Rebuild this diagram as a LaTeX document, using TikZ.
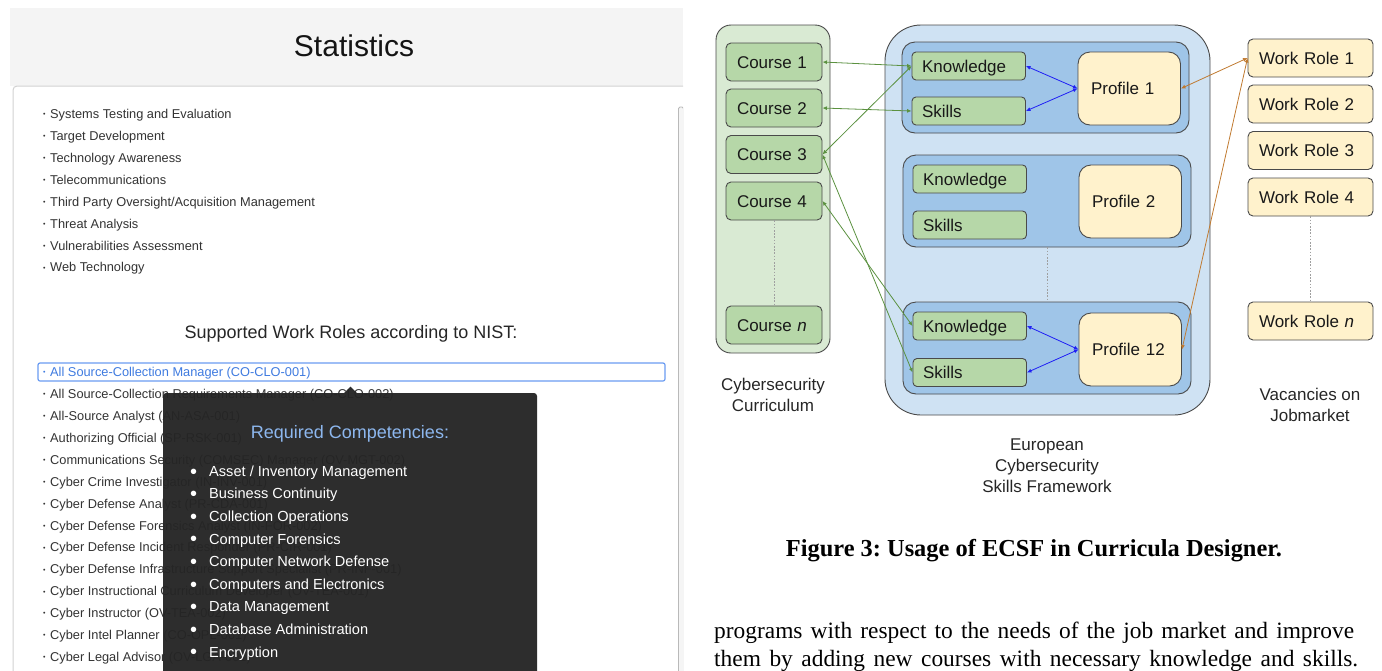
\documentclass[tikz,border=0pt]{standalone}
\usepackage{fontspec}
\setmainfont{Liberation Sans}
\newfontfamily\captionserif{Liberation Serif}
\usetikzlibrary{arrows.meta}
\frenchspacing
\newcommand{\setfs}[2]{\fontsize{#1}{#2}\selectfont}
\newcommand{\listbul}{\makebox[7pt][l]{\raisebox{0.13em}{\setfs{7}{7}•}}}
\newcommand{\tipbul}{\makebox[18pt][l]{\hspace*{-1pt}\raisebox{-0.12em}{\setfs{20}{20}•}}}
\definecolor{hdrgray}{HTML}{F4F4F4}
\definecolor{cardline}{HTML}{D2D2D2}
\definecolor{listtext}{HTML}{333333}
\definecolor{selblue}{HTML}{3F7BE0}
\definecolor{selborder}{HTML}{6A9CF2}
\definecolor{tipbg}{HTML}{252525}
\definecolor{tiptitle}{HTML}{8DB7EE}
\definecolor{currbg}{HTML}{D9EAD3}
\definecolor{coursefill}{HTML}{B6D7A8}
\definecolor{ecsfbg}{HTML}{CFE2F3}
\definecolor{groupfill}{HTML}{9FC5E8}
\definecolor{profill}{HTML}{FFF2CC}
\definecolor{boxline}{HTML}{4A4A4A}
\definecolor{greenarrow}{HTML}{5B9140}
\definecolor{bluearrow}{HTML}{1F1FF5}
\definecolor{orangearrow}{HTML}{C07A30}
\begin{document}
\begin{tikzpicture}[x=1pt, y=-1pt,
  listitem/.style={anchor=base west, inner sep=0pt, font=\setfs{12.8}{15}, text=listtext},
  tipitem/.style={anchor=base west, inner sep=0pt, font=\setfs{14.6}{17}, text=white},
  box/.style={draw=boxline, line width=0.9pt, inner xsep=11pt, inner ysep=0pt, text height=12.2pt, text depth=0pt, align=left, font=\setfs{17}{20}, text=black!90, rounded corners=5pt},
  course/.style={box, fill=coursefill, minimum height=38pt, text width=74pt},
  role/.style={box, fill=profill, minimum height=38pt, text width=103pt},
  ks/.style={box, fill=coursefill, inner xsep=10pt, minimum height=28pt, text width=93.5pt, rounded corners=4pt},
  profile/.style={box, fill=profill, inner xsep=13pt, minimum height=73pt, text width=76.5pt, rounded corners=12pt},
  group/.style={draw=boxline, line width=0.9pt, fill=groupfill, rounded corners=13pt, inner sep=0pt},
  panel/.style={draw=boxline, line width=0.9pt, inner sep=0pt},
  biglabel/.style={align=center, font=\setfs{17}{21}, text=black!85, inner sep=0pt},
  dotline/.style={draw=gray!75, line width=0.7pt, dash pattern=on 1.6pt off 1.6pt},
  tips/.style={arrows={Latex[length=4.5pt,width=4pt]-Latex[length=4.5pt,width=4pt]}, line width=0.8pt},
]
\useasboundingbox (0,0) rectangle (1382,670);
\clip (0,0) rectangle (1382,670);

% ---------------- left panel: screenshot ----------------
\begin{scope}
\clip (0,0) rectangle (683,670);
\fill[hdrgray] (10,8) rectangle (683,86);
\draw[cardline, fill=white, line width=1pt, rounded corners=4pt] (13,86) rectangle (720,720);
\draw[draw=gray!55, fill=gray!8, line width=0.8pt, rounded corners=1.5pt] (678.5,107) rectangle (683.5,700);
\end{scope}

\node[anchor=base, inner sep=0pt, font=\setfs{30}{34}, text=black!92] (stat) at (354,56.7) {Statistics};

\foreach \t [count=\i, evaluate=\i as \yb using 118.6+(\i-1)*21.9] in
  {Systems Testing and Evaluation, Target Development, Technology Awareness, Telecommunications,
   {Third Party Oversight/Acquisition Management}, Threat Analysis, Vulnerabilities Assessment, Web Technology}
  \node[listitem] (top\i) at (43,\yb) {\listbul\t};

\node[anchor=base, inner sep=0pt, font=\setfs{18}{22}, text=black!85] (nist) at (351,338.4) {Supported Work Roles according to NIST:};

\node[draw=selborder, line width=1.2pt, rounded corners=2pt, minimum width=627pt, minimum height=18pt, inner sep=0pt] (sel) at (351.5,372) {};
\node[listitem, text=selblue] (selitem) at (43,376.6) {\listbul All Source-Collection Manager (CO-CLO-001)};

\foreach \t [count=\i, evaluate=\i as \yb using 398.6+(\i-1)*21.9] in
  {All Source-Collection Requirements Manager (CO-CLO-002), All-Source Analyst (AN-ASA-001),
   Authorizing Official (SP-RSK-001), Communications Security (COMSEC) Manager (OV-MGT-002),
   Cyber Crime Investigator (IN-INV-001), Cyber Defense Analyst (PR-CDA-001),
   Cyber Defense Forensics Analyst (IN-FOR-002), Cyber Defense Incident Responder (PR-CIR-001),
   Cyber Defense Infrastructure Support Specialist (PR-INF-001), Cyber Instructional Curriculum Developer (OV-TEA-001),
   Cyber Instructor (OV-TEA-002), Cyber Intel Planner (CO-OPL-001), Cyber Legal Advisor (OV-LGA-001)}
  \node[listitem] (role\i) at (43,\yb) {\listbul\t};

% tooltip
\fill[tipbg, fill opacity=0.96, rounded corners=3pt] (163,393) rectangle (537,700);
\fill[tipbg, fill opacity=0.96] (344,393) -- (350.5,386.5) -- (357,393) -- cycle;
\node[anchor=base, inner sep=0pt, font=\setfs{18}{22}, text=tiptitle] (tiptitle) at (350,438.4) {Required Competencies:};
\foreach \t [count=\i, evaluate=\i as \yb using 476.3+(\i-1)*22.6] in
  {{Asset / Inventory Management}, Business Continuity, Collection Operations, Computer Forensics,
   Computer Network Defense, Computers and Electronics, Data Management, Database Administration, Encryption}
  \node[tipitem] (tip\i) at (191,\yb) {\tipbul\t};

% ---------------- right: diagram ----------------
\node[panel, fill=currbg, minimum width=114pt, minimum height=328pt, rounded corners=15pt] (curr) at (773,189) {};
\node[panel, fill=ecsfbg, minimum width=325pt, minimum height=390pt, rounded corners=36pt] (ecsf) at (1047.5,220) {};
\node[group, minimum width=287pt, minimum height=91pt] (g1) at (1045.5,87.5) {};
\node[group, minimum width=288pt, minimum height=92pt] (g2) at (1047,201) {};
\node[group, minimum width=288pt, minimum height=92pt] (g12) at (1047,348) {};

\node[course] (c1) at (774,62) {Course 1};
\node[course] (c2) at (774,108) {Course 2};
\node[course] (c3) at (774,154.5) {Course 3};
\node[course] (c4) at (774,201) {Course 4};
\node[course] (cn) at (774,325) {Course \textit{n}};

\node[ks] (k1) at (968.75,66) {Knowledge};
\node[ks] (s1) at (968.75,111) {Skills};
\node[profile] (p1) at (1129.25,88.5) {Profile 1};
\node[ks] (k2) at (969.75,179) {Knowledge};
\node[ks] (s2) at (969.75,225) {Skills};
\node[profile] (p2) at (1130.25,201.5) {Profile 2};
\node[ks] (k12) at (969.75,326) {Knowledge};
\node[ks] (s12) at (969.75,372.5) {Skills};
\node[profile] (p12) at (1130.25,349.5) {Profile 12};

\node[role] (w1) at (1310.5,58) {Work Role 1};
\node[role] (w2) at (1310.5,104) {Work Role 2};
\node[role] (w3) at (1310.5,150.5) {Work Role 3};
\node[role] (w4) at (1310.5,197) {Work Role 4};
\node[role] (wn) at (1310.5,321) {Work Role \textit{n}};

\draw[dotline] (c4.south) -- (cn.north);
\draw[dotline] (g2.south) -- (g12.north);
\draw[dotline] (w4.south) -- (wn.north);

\node[biglabel] (lcurr) at (773,395) {Cybersecurity\\Curriculum};
\node[biglabel] (lecsf) at (1047,466) {European\\Cybersecurity\\Skills Framework};
\node[biglabel] (lvac) at (1310,405) {Vacancies on\\Jobmarket};

\draw[tips, greenarrow] (c1.east) -- (k1.west);
\draw[tips, greenarrow] (c2.east) -- (s1.west);
\draw[tips, greenarrow] (c3.east) -- (k1.west);
\draw[tips, greenarrow] (c3.east) -- (s12.west);
\draw[tips, greenarrow] (c4.east) -- (k12.west);

\draw[tips, bluearrow] (k1.east) -- (p1.west);
\draw[tips, bluearrow] (s1.east) -- (p1.west);
\draw[tips, bluearrow] (k12.east) -- (p12.west);
\draw[tips, bluearrow] (s12.east) -- (p12.west);

\draw[tips, orangearrow] (p1.east) -- (w1.west);
\draw[tips, orangearrow] (p12.east) -- (w1.west);

% caption and body text
\node[anchor=base, inner sep=0pt, font=\captionserif\bfseries\setfs{24.4}{28}] (cap) at (1034,556) {Figure 3: Usage of ECSF in Curricula Designer.};
\node[anchor=base west, inner sep=0pt, font=\captionserif\setfs{23.4}{27}] (body1) at (714,638) {\makebox[640pt][s]{programs with respect to the needs of the job market and improve}};
\node[anchor=base west, inner sep=0pt, font=\captionserif\setfs{23.4}{27}] (body2) at (714,666) {\makebox[644pt][s]{them by adding new courses with necessary knowledge and skills.}};
\end{tikzpicture}
\end{document}
